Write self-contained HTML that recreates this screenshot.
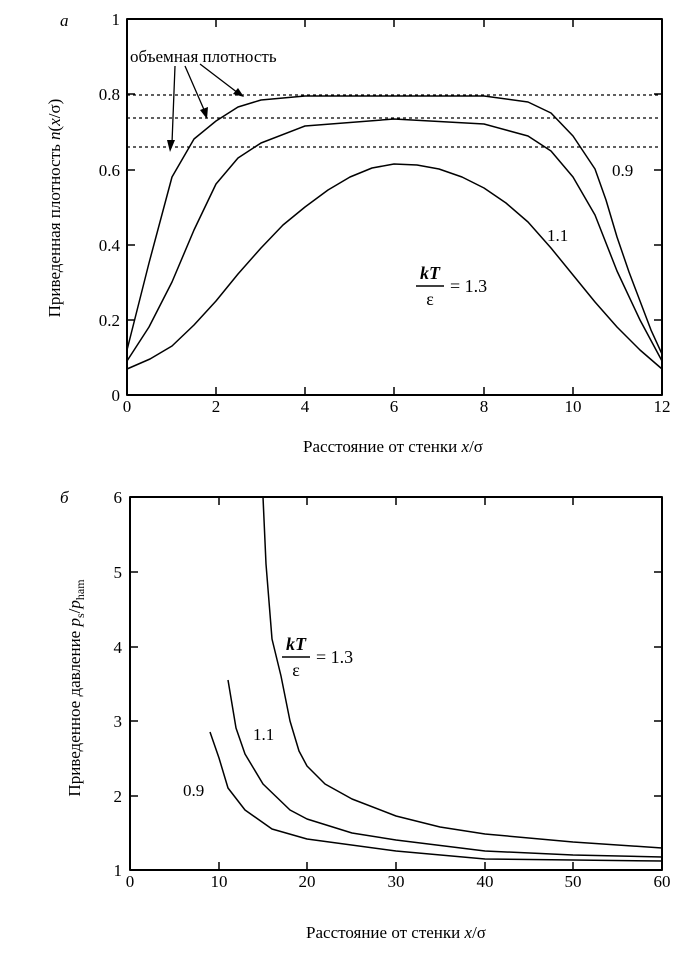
<!DOCTYPE html>
<html><head><meta charset="utf-8"><style>
body{margin:0;background:#fff}
svg text{font-family:"Liberation Serif",serif;fill:#000}
</style></head><body>
<svg width="686" height="952" viewBox="0 0 686 952" xmlns="http://www.w3.org/2000/svg">
<g fill="none" stroke="#000" stroke-linejoin="round">
<rect x="127" y="19" width="535" height="376" stroke-width="2"/>
<g stroke-width="1.5">
<path d="M216,395v-8M305,395v-8M394,395v-8M484,395v-8M573,395v-8"/>
<path d="M216,19v8M305,19v8M394,19v8M484,19v8M573,19v8"/>
<path d="M127,320h8M127,245h8M127,170h8M127,94h8"/>
<path d="M662,320h-8M662,245h-8M662,170h-8M662,94h-8"/>
</g>
<g stroke-dasharray="3,3" stroke-width="1.3">
<path d="M127,95H662M127,118H662M127,147H662"/>
</g>
<g stroke-width="1.5">
<polyline points="127,350 149,263 172,177 194,139 216,121 238,107 261,100 305,96 484,96 528,102 551,113 573,136 595,169 606,200 617,237 629,272 640,301 651,330 662,354"/>
<polyline points="127,361 149,327 172,282 194,230 216,184 238,158 261,143 305,126 394,119 484,124 528,136 551,151 573,177 595,215 617,271 640,320 662,361"/>
<polyline points="127,369 150,359 172,346 194,325 216,301 238,274 261,248 283,225 305,207 328,190 350,177 372,168 394,164 417,165 439,169 462,177 484,188 506,203 528,222 551,248 573,275 595,302 617,327 640,350 662,369"/>
<path d="M175,66 L172,143 M185,66 L205,112 M200,64 L238,93" stroke-width="1.3"/>
</g>
<path d="M170,152 L167,140 L175,140 Z M207,119 L200,110 L208,107 Z M244,97 L233,94 L238,88 Z" fill="#000" stroke="none"/>
<rect x="130" y="497" width="532" height="373" stroke-width="2"/>
<g stroke-width="1.5">
<path d="M219,870v-8M307,870v-8M396,870v-8M485,870v-8M573,870v-8"/>
<path d="M219,497v8M307,497v8M396,497v8M485,497v8M573,497v8"/>
<path d="M130,796h8M130,721h8M130,647h8M130,572h8"/>
<path d="M662,796h-8M662,721h-8M662,647h-8M662,572h-8"/>
</g>
<g stroke-width="1.5">
<polyline points="263,497 266,564 272,639 281,676 290,721 299,751 307,766 325,784 352,799 396,816 440,827 485,834 573,842 662,848"/>
<polyline points="228,680 236,728 245,754 263,784 290,810 307,819 352,833 396,840 485,851 573,855 662,857"/>
<polyline points="210,732 219,758 228,788 245,810 272,829 307,839 396,851 485,859 573,860 662,861"/>
</g>
</g>
<g font-size="17">
<text x="127" y="412" text-anchor="middle">0</text>
<text x="216" y="412" text-anchor="middle">2</text>
<text x="305" y="412" text-anchor="middle">4</text>
<text x="394" y="412" text-anchor="middle">6</text>
<text x="484" y="412" text-anchor="middle">8</text>
<text x="573" y="412" text-anchor="middle">10</text>
<text x="662" y="412" text-anchor="middle">12</text>
<text x="120" y="401" text-anchor="end">0</text>
<text x="120" y="326" text-anchor="end">0.2</text>
<text x="120" y="251" text-anchor="end">0.4</text>
<text x="120" y="176" text-anchor="end">0.6</text>
<text x="120" y="100" text-anchor="end">0.8</text>
<text x="120" y="25" text-anchor="end">1</text>
<text x="130" y="887" text-anchor="middle">0</text>
<text x="219" y="887" text-anchor="middle">10</text>
<text x="307" y="887" text-anchor="middle">20</text>
<text x="396" y="887" text-anchor="middle">30</text>
<text x="485" y="887" text-anchor="middle">40</text>
<text x="573" y="887" text-anchor="middle">50</text>
<text x="662" y="887" text-anchor="middle">60</text>
<text x="122" y="876" text-anchor="end">1</text>
<text x="122" y="802" text-anchor="end">2</text>
<text x="122" y="727" text-anchor="end">3</text>
<text x="122" y="653" text-anchor="end">4</text>
<text x="122" y="578" text-anchor="end">5</text>
<text x="122" y="503" text-anchor="end">6</text>
</g>
<g font-size="17">
<text x="393" y="452" text-anchor="middle">Расстояние от стенки <tspan font-style="italic">x</tspan>/σ</text>
<text x="396" y="938" text-anchor="middle">Расстояние от стенки <tspan font-style="italic">x</tspan>/σ</text>
<text transform="translate(60,208) rotate(-90)" text-anchor="middle">Приведенная плотность <tspan font-style="italic">n</tspan>(<tspan font-style="italic">x</tspan>/σ)</text>
<text transform="translate(80,688) rotate(-90)" text-anchor="middle">Приведенное давление <tspan font-style="italic">p</tspan><tspan font-size="12" dy="4">s</tspan><tspan dy="-4">/</tspan><tspan font-style="italic">p</tspan><tspan font-size="12" dy="4">ham</tspan></text>
<text x="60" y="26" font-style="italic">а</text>
<text x="60" y="503" font-style="italic">б</text>
<text x="130" y="62">объемная плотность</text>
<text x="612" y="176">0.9</text>
<text x="547" y="241">1.1</text>
<text x="183" y="796">0.9</text>
<text x="253" y="740">1.1</text>
</g>
<g font-size="18">
<text x="430" y="279" font-style="italic" font-weight="bold" text-anchor="middle">kT</text>
<path d="M416,286H444" stroke="#000" stroke-width="1.5"/>
<text x="430" y="305" text-anchor="middle">ε</text>
<text x="450" y="292">= 1.3</text>
<text x="296" y="650" font-style="italic" font-weight="bold" text-anchor="middle">kT</text>
<path d="M282,657H310" stroke="#000" stroke-width="1.5"/>
<text x="296" y="676" text-anchor="middle">ε</text>
<text x="316" y="663">= 1.3</text>
</g>
</svg>
</body></html>
